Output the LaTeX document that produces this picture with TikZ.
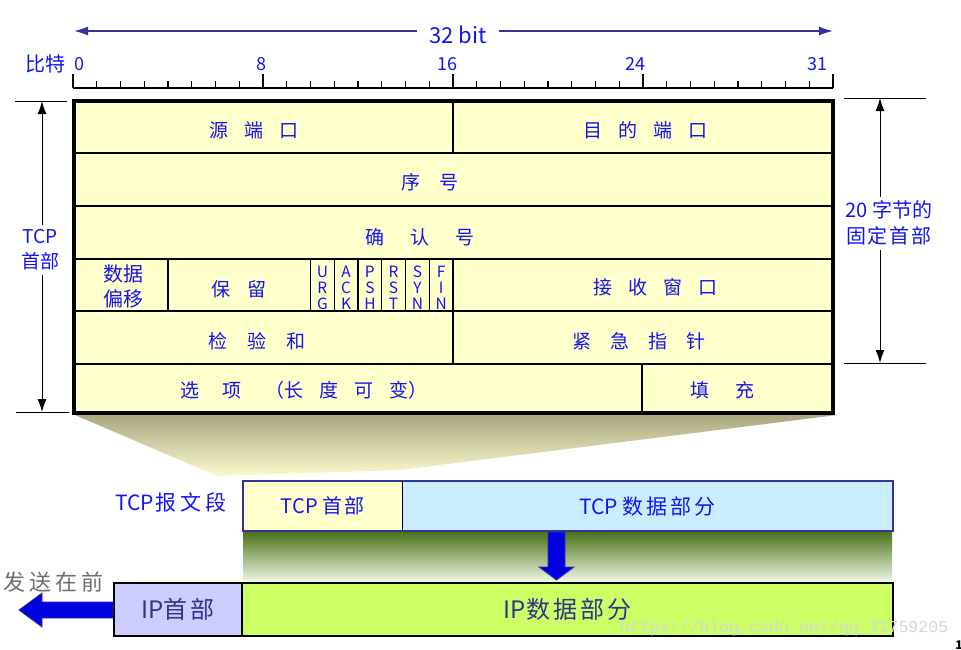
\documentclass[tikz,border=0pt]{standalone}
\usepackage{fontspec}
\setmainfont{Noto Sans CJK SC}
\newfontfamily\wmfont{Liberation Mono}
\usetikzlibrary{arrows.meta}
\definecolor{txtblue}{RGB}{20,20,240}
\definecolor{navy}{RGB}{51,51,153}
\definecolor{ipnavy}{RGB}{50,50,140}
\definecolor{hdrfill}{RGB}{255,255,204}
\definecolor{datafill}{RGB}{204,236,255}
\definecolor{ipfill}{RGB}{204,204,255}
\definecolor{ipdata}{RGB}{204,255,102}
\definecolor{arrowblue}{RGB}{0,0,225}
\definecolor{trtop}{RGB}{168,167,128}
\definecolor{trmid}{RGB}{228,226,178}
\definecolor{trbot}{RGB}{252,250,205}
\definecolor{gtop}{RGB}{72,112,22}
\definecolor{gmid}{RGB}{175,200,130}
\definecolor{gbot}{RGB}{245,250,235}
\definecolor{sendgray}{RGB}{110,110,110}
\definecolor{wmgray}{RGB}{215,215,215}
\newcommand\fsz[2]{\fontsize{#1pt}{#2pt}\selectfont}
\newcommand\gp{\hspace{16pt}}
\begin{document}
\begin{tikzpicture}[x=1pt,y=-1pt,
  lbl/.style={text=txtblue, font=\fsz{19}{23}, inner sep=0pt},
  flag/.style={text=txtblue, font=\fsz{15.5}{16}, align=center, inner sep=0pt},
  num/.style={text=txtblue, font=\fsz{18}{20}, inner sep=0pt},
  gridline/.style={line width=1.1pt, black},
  dimline/.style={line width=1pt, black},
  dimarrow/.style={line width=1pt, black, -{Latex[length=13pt,width=9pt]}},
  boxnode/.style={anchor=north west, inner sep=0pt, outer sep=0pt},
  blockarrow/.style={fill=arrowblue, draw=navy, line width=0.8pt, line join=miter}
]
\useasboundingbox (0,0) rectangle (961,649);

% ---- 32 bit arrow ----
\node[text=txtblue, font=\fsz{22}{24}, inner xsep=12pt, inner ysep=0pt] (bits) at (458,35) {32 bit};
\coordinate (bl) at (74,31);
\coordinate (br) at (833,31);
\draw[navy, line width=1.5pt, -{Latex[length=14pt,width=9pt]}] (bits.west |- bl) -- (bl);
\draw[navy, line width=1.5pt, -{Latex[length=14pt,width=9pt]}] (bits.east |- br) -- (br);

% ---- ruler ----
\node[text=txtblue, font=\fsz{20}{22}, inner sep=0pt] (bitte) at (45,64) {比特};
\node[num] (n0) at (79,64) {0};
\node[num] (n8) at (261,64) {8};
\node[num] (n16) at (447,64) {16};
\node[num] (n24) at (635,64) {24};
\node[num] (n31) at (817,64) {31};
\draw[line width=1.2pt] (73,88) -- (833,88);
\foreach \i in {0,...,32} {
  \pgfmathsetmacro\xx{73+\i*23.75}
  \draw[line width=1.1pt] (\xx,88) -- (\xx,81);
}
\foreach \i in {0,8,16,24,32} {
  \pgfmathsetmacro\xx{73+\i*23.75}
  \draw[line width=1.1pt] (\xx,88) -- (\xx,74);
}

% ---- projection shading ----
\shade[top color=trtop, middle color=trmid, bottom color=trbot]
  (75,415) -- (837,415) -- (400,470) -- (217,476) -- cycle;

% ---- header table ----
\fill[hdrfill] (74,101) rectangle (833,413);
\foreach \yy in {153,206,259,311,364} {
  \draw[gridline] (74,\yy) -- (833,\yy);
}
\draw[gridline] (453,101) -- (453,153);
\draw[gridline] (168,259) -- (168,311);
\foreach \i in {10,...,16} {
  \pgfmathsetmacro\xx{73+\i*23.75}
  \draw[gridline] (\xx,259) -- (\xx,311);
}
\draw[gridline] (453,311) -- (453,364);
\draw[gridline] (642,364) -- (642,413);
\draw[line width=3.6pt] (74,101) rectangle (833,413);

\node[lbl] (tsrc) at (254,130) {源\gp 端\gp 口};
\node[lbl] (tdst) at (645,130) {目\gp 的\gp 端\gp 口};
\node[lbl] (tseq) at (430,182) {序\hspace{20pt}号};
\node[lbl] (tack) at (420,237) {确\hspace{26pt}认\hspace{26pt}号};
\node[lbl, font=\fsz{20}{25}, align=center] (toff) at (123,286) {数据\\偏移};
\node[lbl] (tres) at (239,289) {保\hspace{18pt}留};
\node[flag] (furg) at (322.4,288) {U\\R\\G};
\node[flag] (fack) at (346.1,288) {A\\C\\K};
\node[flag] (fpsh) at (369.9,288) {P\\S\\H};
\node[flag] (frst) at (393.6,288) {R\\S\\T};
\node[flag] (fsyn) at (417.4,288) {S\\Y\\N};
\node[flag] (ffin) at (441.1,288) {F\\I\\N};
\node[lbl] (twin) at (655,287) {接\gp 收\gp 窗\gp 口};
\node[lbl] (tchk) at (257,341) {检\hspace{20pt}验\hspace{20pt}和};
\node[lbl] (turg) at (639,341) {紧\hspace{19pt}急\hspace{19pt}指\hspace{19pt}针};
\node[lbl] (topt) at (304,390) {选\hspace{24pt}项\hspace{24pt}（长\gp 度\gp 可\gp 变）};
\node[lbl] (tpad) at (722,390) {填\hspace{26pt}充};

% ---- left dimension ----
\draw[dimline] (15,101) -- (67,101);
\draw[dimline] (16,412) -- (69,412);
\coordinate (ltop) at (42,101);
\coordinate (lbot) at (42,412);
\node[text=txtblue, font=\fsz{19}{25}, align=center, inner sep=4pt] (tcpl) at (40,250) {TCP\\首部};
\draw[dimarrow] (tcpl.north -| ltop) -- (ltop);
\draw[dimarrow] (tcpl.south -| lbot) -- (lbot);

% ---- right dimension ----
\draw[dimline] (844,98) -- (926,98);
\draw[dimline] (844,363) -- (926,363);
\coordinate (rtop) at (880,98);
\coordinate (rbot) at (880,363);
\node[text=txtblue, font=\fsz{20}{26}, align=center, inner sep=4pt] (fixed) at (889,223) {20 字节的\\固\hspace{2pt}定\hspace{2pt}首\hspace{2pt}部};
\draw[dimarrow] (fixed.north -| rtop) -- (rtop);
\draw[dimarrow] (fixed.south -| rbot) -- (rbot);

% ---- TCP segment ----
\shade[top color=gtop, middle color=gmid, bottom color=gbot] (243,531) rectangle (892,583);
\node[text=txtblue, font=\fsz{21}{24}, inner sep=0pt] (seglbl) at (171,502) {TCP\hspace{2pt}报\hspace{4pt}文\hspace{4pt}段};
\node[boxnode, fill=hdrfill, minimum width=159pt, minimum height=50pt, text=txtblue, font=\fsz{20}{24}] (tcphdr) at (243,481) {\raisebox{-3pt}{TCP 首\hspace{2pt}部}};
\node[boxnode, fill=datafill, minimum width=491pt, minimum height=50pt, text=txtblue, font=\fsz{21}{24}] (tcpdata) at (402,481) {\raisebox{-3pt}{TCP 数\hspace{3pt}据\hspace{3pt}部\hspace{3pt}分}};
\draw[navy, line width=2.5pt] (tcphdr.north west) rectangle (tcpdata.south east);
\draw[line width=1pt] (tcphdr.north east) -- (tcphdr.south east);

% ---- IP datagram ----
\node[boxnode, draw=black, line width=2pt, fill=ipfill, minimum width=128pt, minimum height=53pt, text=ipnavy, font=\fsz{24}{28}] (iphdr) at (114,583) {\raisebox{-2pt}{IP首\hspace{3pt}部}};
\node[boxnode, draw=black, line width=2pt, fill=ipdata, minimum width=651pt, minimum height=53pt, text=ipnavy, font=\fsz{24}{28}] (ipdatan) at (242,583) {\raisebox{-2pt}{IP数\hspace{3pt}据\hspace{3pt}部\hspace{3pt}分}};

% ---- block arrows ----
\draw[blockarrow] (548,532) -- (565,532) -- (565,567) -- (574,567) -- (556.5,580) -- (539,567) -- (548,567) -- cycle;
\draw[blockarrow] (113,602) -- (42,602) -- (42,593) -- (19,610) -- (42,627) -- (42,618) -- (113,618) -- cycle;
\node[text=sendgray, font=\fsz{22}{24}, inner sep=0pt] (send) at (54,582) {发\hspace{4pt}送\hspace{4pt}在\hspace{4pt}前};

% ---- watermark and page number ----
\node[text=wmgray, font=\wmfont\fsz{16.6}{18}, inner sep=0pt] (wm) at (784,628) {https://blog.csdn.net/qq\_31759205};
\node[font=\bfseries\fsz{12}{12}, inner sep=0pt] (pg) at (959,645) {1};
\end{tikzpicture}
\end{document}
